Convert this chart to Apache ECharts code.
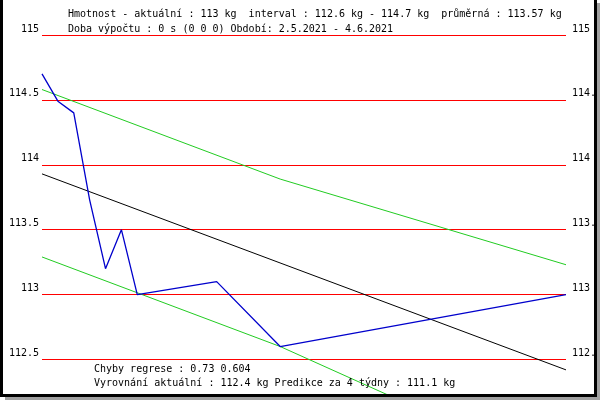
<!DOCTYPE html>
<html>
<head>
<meta charset="utf-8">
<script src="https://cdn.jsdelivr.net/npm/echarts@6/dist/echarts.min.js"></script>
<style>
html,body{margin:0;padding:0;background:#fff;}
#c{width:600px;height:400px;}
</style>
</head>
<body>
<div id="c"></div>
<script>
// Days since 2.5.2021 (period 2.5.2021 - 4.6.2021)
var days = [0, 1, 2, 3, 4, 5, 6, 11, 15, 33];
var weights = [114.70, 114.49, 114.40, 113.73, 113.20, 113.50, 113.00, 113.10, 112.60, 113.00];
var regressionDays = [0, 33];
var regressionValues = [113.93, 112.42];
var bandDays = [0, 15, 33];
var upperBand = [114.58, 113.89, 113.23];
var lowerBand = [113.29, 112.60, 111.61];
var yMin = 112.5, yMax = 115, yStep = 0.5;
var headerLines = [
  'Hmotnost - aktuální : 113 kg  interval : 112.6 kg - 114.7 kg  průměrná : 113.57 kg',
  'Doba výpočtu : 0 s (0 0 0) Období: 2.5.2021 - 4.6.2021'
];
var footerLines = [
  'Chyby regrese : 0.73 0.604',
  'Vyrovnání aktuální : 112.4 kg Predikce za 4 týdny : 111.1 kg'
];

function pairs(xs, ys) { return xs.map(function (x, i) { return [x, ys[i]]; }); }

var FONT = 'DejaVu Sans Mono';
var chart = echarts.init(document.getElementById('c'), null, {renderer: 'canvas'});
var lbl = {color: '#000', fontFamily: FONT, fontSize: 10, verticalAlign: 'bottom', lineHeight: 12};
chart.setOption({
  animation: false,
  backgroundColor: '#fff',
  grid: {left: 42, right: 34, top: 35, bottom: 40.5, containLabel: false, outerBoundsMode: 'none'},
  xAxis: {type: 'value', min: 0, max: 33, show: false},
  yAxis: [
    {type: 'value', min: yMin, max: yMax, interval: yStep, position: 'left',
     axisLine: {show: false}, axisTick: {show: false},
     axisLabel: Object.assign({margin: 3, align: 'right'}, lbl),
     splitLine: {show: true, lineStyle: {color: '#ff0000', width: 1}}},
    {type: 'value', min: yMin, max: yMax, interval: yStep, position: 'right',
     axisLine: {show: false}, axisTick: {show: false},
     axisLabel: Object.assign({margin: 6, align: 'left'}, lbl),
     splitLine: {show: false}}
  ],
  series: [
    {type: 'line', data: pairs(bandDays, upperBand), symbol: 'none', clip: false,
     lineStyle: {color: '#22cc22', width: 1}},
    {type: 'line', data: pairs(bandDays, lowerBand), symbol: 'none', clip: false,
     lineStyle: {color: '#22cc22', width: 1}},
    {type: 'line', data: pairs(regressionDays, regressionValues), symbol: 'none', clip: false,
     lineStyle: {color: '#000000', width: 1}},
    {type: 'line', data: pairs(days, weights), symbol: 'none', clip: false,
     lineStyle: {color: '#0000cc', width: 1.3}}
  ],
  graphic: [
    {type: 'text', left: 68, top: 9, z: 10, style: {text: headerLines[0], font: '10px ' + FONT, fill: '#000'}},
    {type: 'text', left: 68, top: 24, z: 10, style: {text: headerLines[1], font: '10px ' + FONT, fill: '#000'}},
    {type: 'text', left: 94, top: 364, z: 10, style: {text: footerLines[0], font: '10px ' + FONT, fill: '#000'}},
    {type: 'text', left: 94, top: 378, z: 10, style: {text: footerLines[1], font: '10px ' + FONT, fill: '#000'}},
    // frame
    {type: 'rect', z: 100, shape: {x: 0, y: 0, width: 3, height: 397}, style: {fill: '#000'}},
    {type: 'rect', z: 100, shape: {x: 594, y: 0, width: 3, height: 397}, style: {fill: '#000'}},
    {type: 'rect', z: 100, shape: {x: 0, y: 394, width: 597, height: 3}, style: {fill: '#000'}},
    {type: 'rect', z: 100, shape: {x: 597, y: 3, width: 3, height: 397}, style: {fill: '#a0a0a0'}},
    {type: 'rect', z: 100, shape: {x: 5, y: 397, width: 595, height: 3}, style: {fill: '#a0a0a0'}}
  ]
});
</script>
</body>
</html>
